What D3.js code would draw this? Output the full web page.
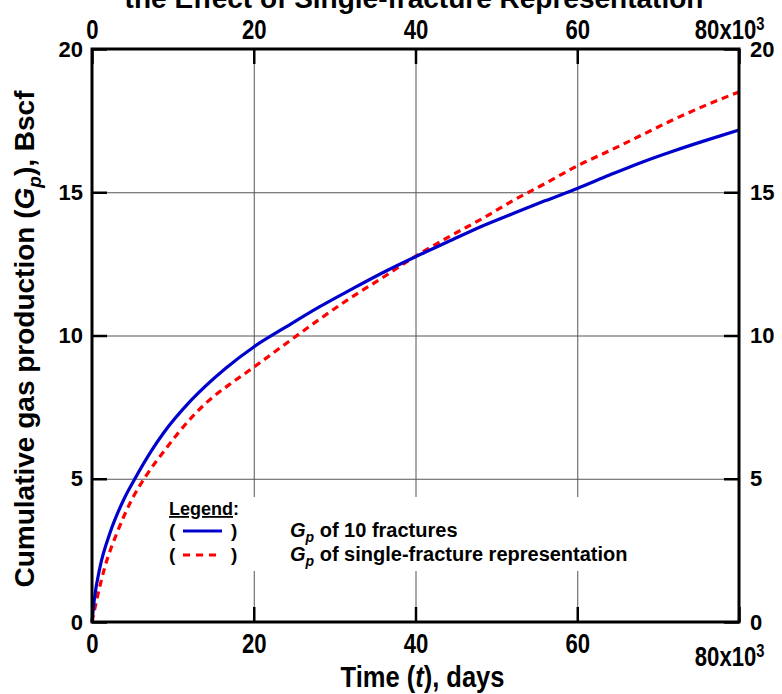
<!DOCTYPE html>
<html>
<head>
<meta charset="utf-8">
<script src="https://cdn.jsdelivr.net/npm/d3@7"></script>
<style>
  body { margin: 0; background: #fff; }
  text { font-family: "Liberation Sans", Arial, sans-serif; font-weight: bold; fill: #000; }
</style>
</head>
<body>
<script>
// time in thousands of days, Gp in Bscf
let tenFracT  = [0, 0.28, 1.0, 2.2, 3.9, 5.3, 7.4, 8.8, 12.3, 16.5, 20, 24, 28, 32, 36, 40, 44, 48, 52, 56, 60, 64, 68, 72, 76, 80];
let tenFracGp = [0, 0.77, 1.93, 3.09, 4.26, 5.0, 6.0, 6.58, 7.75, 8.85, 9.6, 10.3, 10.98, 11.6, 12.2, 12.75, 13.27, 13.79, 14.25, 14.7, 15.13, 15.6, 16.05, 16.45, 16.82, 17.17];

let singleT  = [0, 0.58, 1.6, 3.06, 4.9, 6.8, 9.0, 12.35, 14.4, 16.8, 19.3, 23.8, 27.8, 31.9, 36.1, 40.2, 44.3, 48.5, 52, 56, 60, 64, 68, 72, 76, 80];
let singleGp = [0, 0.77, 1.93, 3.09, 4.26, 5.15, 6.0, 7.15, 7.72, 8.25, 8.75, 9.68, 10.5, 11.3, 12.05, 12.8, 13.47, 14.12, 14.7, 15.3, 15.92, 16.45, 17.0, 17.55, 18.05, 18.5];

let xTicks = [0, 20, 40, 60, 80];
let yTicks = [0, 5, 10, 15, 20];

let svg = d3.select("body").append("svg").attr("width", 782).attr("height", 694),
    margin = {top: 49, right: 43, bottom: 72, left: 92},
    width = 782 - margin.left - margin.right,
    height = 694 - margin.top - margin.bottom;

let x = d3.scaleLinear().domain([0, 80]).range([0, width]),
    y = d3.scaleLinear().domain([0, 20]).range([height, 0]);

let g = svg.append("g").attr("transform", "translate(" + margin.left + "," + margin.top + ")");

// grid
g.append("g")
    .attr("class", "grid")
    .attr("transform", "translate(0," + height + ")")
    .call(d3.axisBottom(x).tickValues([20, 40, 60]).tickSize(-height).tickFormat(""));
g.append("g")
    .attr("class", "grid")
    .call(d3.axisLeft(y).tickValues([5, 10, 15]).tickSize(-width).tickFormat(""));
g.selectAll(".grid .domain").remove();
g.selectAll(".grid line").attr("stroke", "#555").attr("stroke-width", 1);

// legend background hides grid
g.append("rect")
    .attr("x", 73).attr("y", 448)
    .attr("width", 475).attr("height", 74)
    .attr("fill", "#fff");

// curves
let line = d3.line()
    .x(d => x(d[0]))
    .y(d => y(d[1]))
    .curve(d3.curveMonotoneX);

g.append("path")
    .datum(d3.zip(singleT, singleGp))
    .attr("fill", "none")
    .attr("stroke", "#ff0000")
    .attr("stroke-width", 3.2)
    .attr("stroke-dasharray", "7,5")
    .attr("d", line);

g.append("path")
    .datum(d3.zip(tenFracT, tenFracGp))
    .attr("fill", "none")
    .attr("stroke", "#0000cc")
    .attr("stroke-width", 3.2)
    .attr("d", line);

// axes (ticks pointing inward)
function xLabels(sel, lastY) {
  sel.selectAll(".tick text")
      .style("font-size", "27px")
      .attr("transform", "scale(0.82,1)");
  sel.selectAll(".tick text")
    .filter(d => d === 80)
    .each(function() {
      let t = d3.select(this).text("80x10").attr("dx", "-12");
      if (lastY != null) t.attr("y", lastY);
      t.append("tspan").attr("dy", "-0.5em").style("font-size", "18px").text("3");
    });
}

let xBottom = g.append("g")
    .attr("class", "axis")
    .attr("transform", "translate(0," + height + ")")
    .call(d3.axisBottom(x).tickValues(xTicks).tickSizeInner(-15).tickSizeOuter(0).tickPadding(12).tickFormat(d3.format("d")));

let xTop = g.append("g")
    .attr("class", "axis")
    .call(d3.axisTop(x).tickValues(xTicks).tickSizeInner(-15).tickSizeOuter(0).tickPadding(10).tickFormat(d3.format("d")));

let yLeft = g.append("g")
    .attr("class", "axis")
    .call(d3.axisLeft(y).tickValues(yTicks).tickSizeInner(-15).tickSizeOuter(0).tickPadding(9));

let yRight = g.append("g")
    .attr("class", "axis")
    .attr("transform", "translate(" + width + ",0)")
    .call(d3.axisRight(y).tickValues(yTicks).tickSizeInner(-15).tickSizeOuter(0).tickPadding(11));

g.selectAll(".axis .domain").remove();
g.selectAll(".axis line").attr("stroke", "#000").attr("stroke-width", 2.5);
g.selectAll(".axis text").style("font-size", "22px").attr("fill", "#000");
xLabels(xBottom, 25);
xLabels(xTop, null);

// frame
g.append("rect")
    .attr("width", width).attr("height", height)
    .attr("fill", "none")
    .attr("stroke", "#000")
    .attr("stroke-width", 3);

// legend
let lg = g.append("g").attr("transform", "translate(77,0)");
lg.append("text").attr("x", 0).attr("y", 466).style("font-size", "18px")
    .html('<tspan text-decoration="underline">Legend</tspan>:');
[["#0000cc", null, 488, "of 10 fractures"], ["#ff0000", "7,6", 512, "of single-fracture representation"]].forEach(r => {
  lg.append("text").attr("x", 0).attr("y", r[2]).style("font-size", "19px").text("(");
  lg.append("text").attr("x", 62).attr("y", r[2]).style("font-size", "19px").text(")");
  lg.append("line")
      .attr("x1", 14).attr("x2", 53)
      .attr("y1", r[2] - 6).attr("y2", r[2] - 6)
      .attr("stroke", r[0]).attr("stroke-width", 3)
      .attr("stroke-dasharray", r[1]);
  let t = lg.append("text").attr("x", 121).attr("y", r[2]).style("font-size", "20px");
  t.append("tspan").style("font-style", "italic").text("G");
  t.append("tspan").style("font-style", "italic").style("font-size", "14px").attr("dy", 5).text("p");
  t.append("tspan").attr("dy", -5).text(" " + r[3]);
});

// axis titles
let yt = svg.append("text")
    .attr("transform", "translate(34,339) rotate(-90)")
    .attr("text-anchor", "middle")
    .style("font-size", "28px");
yt.append("tspan").text("Cumulative gas production (");
yt.append("tspan").style("font-style", "italic").text("G");
yt.append("tspan").style("font-style", "italic").style("font-size", "19px").attr("dy", 7).text("p");
yt.append("tspan").attr("dy", -7).text("), Bscf");

let xt = svg.append("text")
    .attr("transform", "translate(" + (margin.left + width / 2 + 7) + ",687) scale(0.85,1)")
    .attr("text-anchor", "middle")
    .style("font-size", "30px");
xt.append("tspan").text("Time (");
xt.append("tspan").style("font-style", "italic").text("t");
xt.append("tspan").text("), days");

// title (clipped at top like the original)
svg.append("text")
    .attr("x", 414)
    .attr("y", 8)
    .attr("text-anchor", "middle")
    .style("font-size", "28px")
    .text("the Effect of Single-fracture Representation");
</script>
</body>
</html>
